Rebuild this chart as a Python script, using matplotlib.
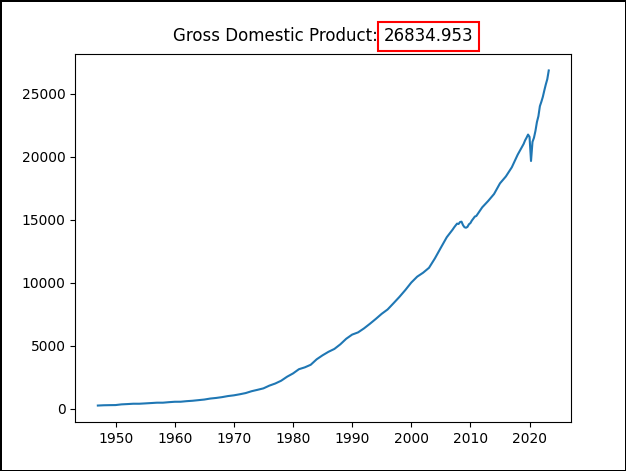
import matplotlib
matplotlib.use("Agg")
import matplotlib.pyplot as plt

# Dates as fractional years (quarter starts); mostly Q1 of each year, quarterly around recessions
years = [1947, 1948, 1949, 1950, 1951, 1952, 1953, 1954, 1955, 1956, 1957, 1958, 1959,
         1960, 1961, 1962, 1963, 1964, 1965, 1966, 1967, 1968, 1969, 1970, 1971, 1972,
         1973, 1974, 1975, 1976, 1977, 1978, 1979, 1980, 1981, 1982, 1983, 1984, 1985,
         1986, 1987, 1988, 1989, 1990, 1991, 1992, 1993, 1994, 1995, 1996, 1997, 1998,
         1999, 2000, 2001, 2002, 2003, 2004, 2005, 2006,
         2007.0, 2007.25, 2007.5, 2007.75, 2008.0, 2008.25, 2008.5, 2008.75,
         2009.0, 2009.25, 2009.5, 2009.75, 2010.0, 2010.25, 2010.5, 2010.75,
         2011, 2012, 2013, 2014, 2015, 2016, 2017, 2018,
         2019.0, 2019.25, 2019.5, 2019.75, 2020.0, 2020.25, 2020.5, 2020.75,
         2021.0, 2021.25, 2021.5, 2021.75, 2022.0, 2022.25, 2022.5, 2022.75,
         2023.0, 2023.25]
gdp = [243.2, 265.7, 275.0, 281.2, 336.0, 360.0, 387.3, 386.1, 413.1, 440.9, 469.9, 469.5, 510.3,
       543.3, 545.5, 590.3, 622.7, 671.1, 719.2, 797.3, 846.0, 911.1, 995.4, 1053.5, 1137.8, 1233.8,
       1380.7, 1491.2, 1606.4, 1823.4, 1991.4, 2212.8, 2531.1, 2789.8, 3126.2, 3274.3, 3480.3, 3912.0, 4230.2,
       4507.9, 4736.1, 5100.4, 5542.4, 5872.7, 6047.5, 6363.1, 6729.5, 7115.7, 7522.3, 7868.5, 8362.7, 8866.5,
       9411.7, 10002.2, 10470.2, 10783.5, 11174.1, 11923.4, 12767.3, 13599.2,
       14208.6, 14382.4, 14535.0, 14681.5, 14651.0, 14805.6, 14835.2, 14559.5,
       14394.5, 14352.9, 14420.3, 14628.0, 14721.4, 14926.1, 15079.9, 15240.8,
       15285.8, 15973.9, 16475.4, 17031.3, 17874.7, 18424.3, 19148.2, 20155.5,
       21001.6, 21289.3, 21505.0, 21747.4, 21561.1, 19650.0, 21170.0, 21494.7,
       22038.2, 22741.0, 23202.3, 24002.8, 24349.1, 24740.5, 25248.5, 25723.9,
       26138.0, 26834.953]

title_label = "Gross Domestic Product:"
last_value = "26834.953"

W, H = 626, 471
fig = plt.figure(figsize=(W / 100, H / 100), dpi=100)
fig.patch.set_edgecolor("black")
fig.patch.set_linewidth(2)

ax = fig.add_axes([75.3 / W, 1 - 422.3 / H, (571.3 - 75.3) / W, (422.3 - 53.7) / H])
ax.plot(years, gdp, color="C0", linewidth=1.5)
ax.set_xticks([1950, 1960, 1970, 1980, 1990, 2000, 2010, 2020])

# Title built from two texts: label and boxed number
fig.canvas.draw()
r = fig.canvas.get_renderer()
t1 = fig.text(0, 0, title_label + " ", fontsize=12)
t2 = fig.text(0, 0, last_value, fontsize=12)
w1 = t1.get_window_extent(r).width
w2 = t2.get_window_extent(r).width
t1.remove(); t2.remove()
bb = ax.get_window_extent(r)
cx = (bb.x0 + bb.x1) / 2
start = cx - (w1 + w2) / 2
ybase = bb.y1 + 6 * 100 / 72
fig.text(start / W, ybase / H, title_label + " ", fontsize=12, ha="left", va="bottom")
fig.text((start + w1) / W, ybase / H, last_value, fontsize=12, ha="left", va="bottom",
         bbox=dict(facecolor="none", edgecolor="red", linewidth=1.5))

fig.savefig("out.png", dpi=100, edgecolor=fig.get_edgecolor())
